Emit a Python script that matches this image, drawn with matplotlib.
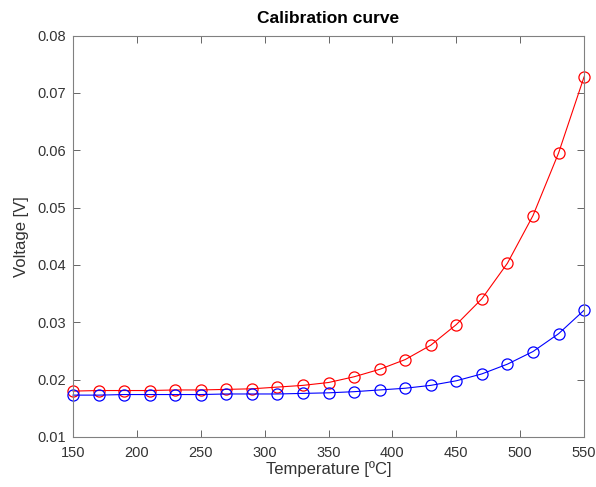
import matplotlib.pyplot as plt
import numpy as np

plt.rcParams['font.family'] = ['Liberation Sans', 'DejaVu Sans']

temperature = [150, 170, 190, 210, 230, 250, 270, 290, 310, 330, 350, 370,
               390, 410, 430, 450, 470, 490, 510, 530, 550]
voltage_red = [0.0180, 0.0181, 0.0181, 0.0181, 0.0182, 0.0182, 0.0183, 0.0184,
               0.0187, 0.0190, 0.0195, 0.0205, 0.0218, 0.0235, 0.0260, 0.0296,
               0.0341, 0.0403, 0.0486, 0.0595, 0.0728]
voltage_blue = [0.0173, 0.0173, 0.0174, 0.0174, 0.0174, 0.0174, 0.0175, 0.0175,
                0.0175, 0.0176, 0.0177, 0.0179, 0.0182, 0.0185, 0.0190, 0.0198,
                0.0210, 0.0227, 0.0249, 0.0280, 0.0321]

xticks = [150, 200, 250, 300, 350, 400, 450, 500, 550]
yticks = [0.01, 0.02, 0.03, 0.04, 0.05, 0.06, 0.07, 0.08]

fig = plt.figure(figsize=(5.96, 4.87), dpi=100)
ax = fig.add_axes([0.1225, 0.1027, 0.8575, 0.8243])

ax.plot(temperature, voltage_red, color='red', lw=0.8, marker='o', ms=8,
        mfc='none', mec='red', mew=0.9, clip_on=False)
ax.plot(temperature, voltage_blue, color='blue', lw=0.8, marker='o', ms=8,
        mfc='none', mec='blue', mew=0.9, clip_on=False)

ax.set_xlim(150, 550)
ax.set_ylim(0.01, 0.08)
ax.set_xticks(xticks)
ax.set_yticks(yticks)
ax.set_yticklabels(['%.2f' % v for v in yticks])

grey = '#333333'
for s in ax.spines.values():
    s.set_color('#808080')
    s.set_linewidth(0.8)
ax.tick_params(direction='in', top=True, right=True, length=5, width=0.6,
               colors='#4d4d4d', labelsize=10.5, labelcolor=grey)
ax.tick_params(axis='x', pad=6.5)
ax.tick_params(axis='y', pad=5)

ax.set_xlabel('Temperature [ºC]', fontsize=12, color=grey, labelpad=1)
ax.set_ylabel('Voltage [V]', fontsize=12, color=grey, labelpad=6)
ax.set_title('Calibration curve', fontsize=12.5, fontweight='bold', pad=9)

fig.savefig('out.png', dpi=100)
